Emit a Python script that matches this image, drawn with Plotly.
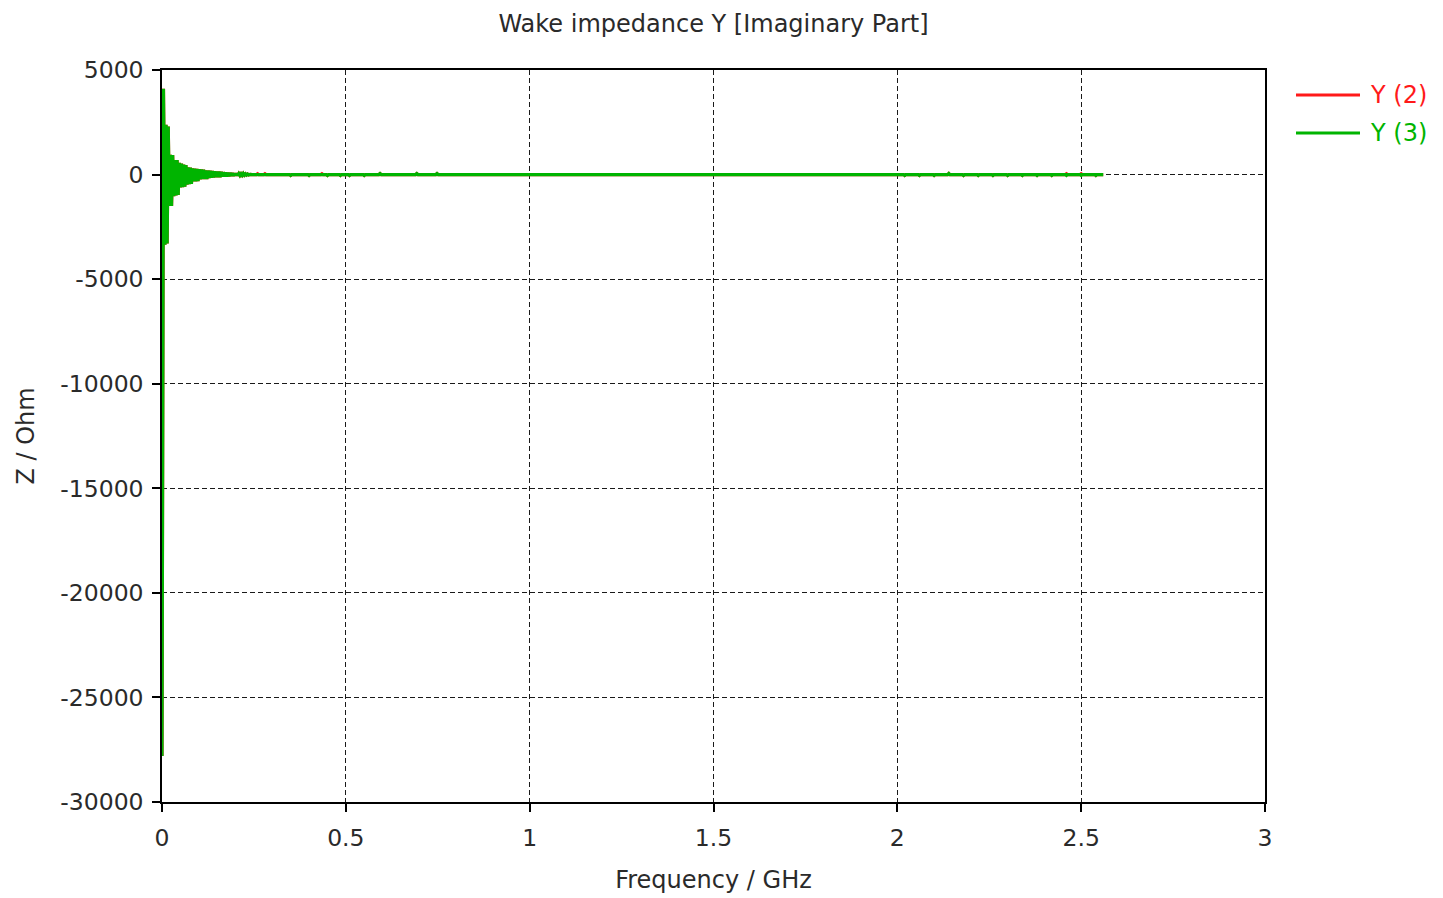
import plotly.graph_objects as go

# ---- data ----
freq_head = [0.000, 0.004, 0.008, 0.011, 0.014, 0.017, 0.020, 0.023, 0.026, 0.029,
             0.032, 0.035, 0.038, 0.041, 0.044, 0.047, 0.050, 0.053, 0.056, 0.059,
             0.062, 0.065, 0.068, 0.071, 0.074, 0.077, 0.080, 0.083, 0.086, 0.089,
             0.092, 0.095, 0.098, 0.101, 0.104, 0.107, 0.110, 0.113, 0.116, 0.119,
             0.122, 0.125, 0.128, 0.131, 0.134, 0.137, 0.140, 0.143, 0.146, 0.149,
             0.152, 0.155, 0.158, 0.161, 0.164, 0.167, 0.170, 0.173, 0.176, 0.179,
             0.182, 0.185, 0.188, 0.191, 0.194, 0.197, 0.200, 0.203, 0.206, 0.209,
             0.212, 0.215, 0.218, 0.221, 0.224, 0.227, 0.230, 0.233, 0.236, 0.240]
z_head = [-27800, 4100, -3350, 2380, -3300, 2300, -1500, 950, -1500, 930,
          -1030, 700, -1000, 690, -980, 560, -620, 530, -600, 480,
          -580, 450, -480, 350, -460, 330, -440, 300, -330, 280,
          -320, 270, -310, 260, -230, 240, -220, 230, -220, 200,
          -210, 190, -160, 180, -150, 170, -140, 160, -130, 150,
          -130, 140, -120, 130, -100, 110, -90, 100, -90, 90,
          -80, 80, -70, 70, -60, 60, -50, 50, -45, 45,
          -40, 40, -35, 50, -30, 30, -25, 20, -20, 10]

freq_tail = [0.245,
             0.257, 0.260, 0.263, 0.277, 0.280, 0.283,
             0.347, 0.350, 0.353, 0.397, 0.400, 0.403, 0.432, 0.435, 0.438,
             0.447, 0.450, 0.453, 0.482, 0.485, 0.488, 0.507, 0.510, 0.513,
             0.547, 0.550, 0.553, 0.590, 0.593, 0.596, 0.690, 0.693, 0.696,
             0.745, 0.748, 0.751,
             2.017, 2.020, 2.023, 2.057, 2.060, 2.063, 2.097, 2.100, 2.103,
             2.137, 2.140, 2.143, 2.177, 2.180, 2.183, 2.217, 2.220, 2.223,
             2.257, 2.260, 2.263, 2.297, 2.300, 2.303, 2.337, 2.340, 2.343,
             2.377, 2.380, 2.383, 2.417, 2.420, 2.423, 2.457, 2.460, 2.463,
             2.497, 2.500, 2.503, 2.537, 2.540, 2.543,
             2.560]
z_tail_y3 = [0,
             0, 0, 0, 0, 0, 0,
             0, -40, 0, 0, -40, 0, 0, 0, 0,
             0, -40, 0, 0, -40, 0, 0, -40, 0,
             0, -40, 0, 0, 45, 0, 0, 45, 0,
             0, 45, 0,
             0, -40, 0, 0, -40, 0, 0, -40, 0,
             0, 50, 0, 0, -40, 0, 0, -40, 0,
             0, -40, 0, 0, -40, 0, 0, -40, 0,
             0, -40, 0, 0, -40, 0, 0, -40, 0,
             0, -40, 0, 0, -40, 0,
             0]
z_tail_y2 = [0,
             0, 40, 0, 0, 40, 0,
             0, -40, 0, 0, -40, 0, 0, 40, 0,
             0, -40, 0, 0, -40, 0, 0, -40, 0,
             0, -40, 0, 0, 45, 0, 0, 45, 0,
             0, 45, 0,
             0, -40, 0, 0, -40, 0, 0, -40, 0,
             0, 50, 0, 0, -40, 0, 0, -40, 0,
             0, -40, 0, 0, -40, 0, 0, -40, 0,
             0, -40, 0, 0, -40, 0, 0, 40, 0,
             0, 40, 0, 0, -40, 0,
             0]

freq = freq_head + freq_tail
z_y3 = z_head + z_tail_y3
z_y2 = z_head + z_tail_y2

series_names = ["Y (2)", "Y (3)"]
series_colors = ["#ff1a1a", "#00b400"]

x_tick_vals = [0, 0.5, 1, 1.5, 2, 2.5, 3]
x_tick_labels = ["0", "0.5", "1", "1.5", "2", "2.5", "3"]
y_tick_vals = [5000, 0, -5000, -10000, -15000, -20000, -25000, -30000]
y_tick_labels = ["5000", "0", "-5000", "-10000", "-15000", "-20000", "-25000", "-30000"]

FONT = "DejaVu Sans"
TXT = "#2a2a2a"
TS = 23.5   # tick font size
LS = 24     # title/label font size

fig = go.Figure()
for name, col, ys in zip(series_names, series_colors, [z_y2, z_y3]):
    fig.add_trace(go.Scatter(x=freq, y=ys, mode="lines", name=name,
                             line=dict(color=col, width=3.2), showlegend=False))

axis_common = dict(showline=True, linecolor="black", linewidth=1.5, mirror=True,
                   ticks="outside", ticklen=8, tickcolor="black", tickwidth=1.5,
                   showgrid=True, gridcolor="#1a1a1a", gridwidth=1.4, griddash="5px,3px",
                   zeroline=False, automargin=False,
                   tickfont=dict(family=FONT, size=TS, color=TXT))

fig.update_layout(
    width=1443, height=898,
    paper_bgcolor="white", plot_bgcolor="white",
    margin=dict(l=162, r=178, t=70, b=96),
    title=dict(text="Wake impedance Y [Imaginary Part]", x=(162 + 551.5) / 1443,
               xanchor="center", y=1 - 24 / 898, yanchor="middle",
               font=dict(family=FONT, size=LS, color=TXT)),
    xaxis=dict(range=[0, 3], tickvals=x_tick_vals, ticktext=x_tick_labels,
               ticklabelstandoff=6,
               title=dict(text="Frequency / GHz", font=dict(family=FONT, size=LS, color=TXT), standoff=20),
               **axis_common),
    yaxis=dict(range=[-30000, 5000], tickvals=y_tick_vals, ticktext=y_tick_labels,
               ticklabelstandoff=4,
               title=dict(text="Z / Ohm", font=dict(family=FONT, size=LS, color=TXT), standoff=19),
               **axis_common),
    showlegend=False,
)

# manual legend (matches the reference's long line samples and coloured labels)
leg_y = [95, 133]
for name, col, py in zip(series_names, series_colors, leg_y):
    yp = (802 - py) / 732
    fig.add_shape(type="line", xref="paper", yref="paper",
                  x0=(1296 - 162) / 1103, x1=(1360 - 162) / 1103, y0=yp, y1=yp,
                  line=dict(color=col, width=3))
    fig.add_annotation(xref="paper", yref="paper", x=(1368 - 162) / 1103, y=yp,
                       xanchor="left", yanchor="middle", text=name, showarrow=False,
                       font=dict(family=FONT, size=LS, color=col))

fig.write_html("out.html")
